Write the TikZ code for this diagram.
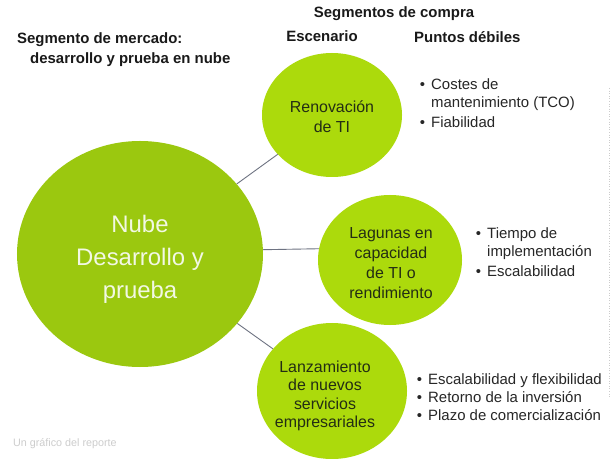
\documentclass[tikz,border=0pt]{standalone}
\usepackage{fontspec}
\setmainfont{Liberation Sans}
\usetikzlibrary{shapes.geometric}
\definecolor{bigg}{RGB}{155,200,15}
\definecolor{smallg}{RGB}{172,218,12}
\definecolor{circtext}{RGB}{35,45,20}
\definecolor{bigtext}{RGB}{242,248,228}
\definecolor{linegray}{RGB}{110,115,130}
\definecolor{captiongray}{RGB}{205,205,205}
\tikzset{
  blob/.style={ellipse, inner sep=0pt, draw=none},
  head/.style={font=\fontsize{15}{18}\selectfont\bfseries, inner sep=0pt, text=black!90},
  pts/.style={font=\fontsize{15}{18.5}\selectfont, align=left, inner sep=0pt, anchor=north west, text=black!85},
  ctext/.style={font=\fontsize{16}{20}\selectfont, align=center, inner sep=0pt, text=circtext},
  conn/.style={draw=linegray, line width=0.9pt}
}
\newcommand{\bul}{\llap{\textbullet\hspace{6pt}}}
\begin{document}
\begin{tikzpicture}[x=1bp,y=-1bp]
\useasboundingbox[fill=white] (0,0) rectangle (610,459);

% circles
\node[blob, fill=bigg, minimum width=246bp, minimum height=226bp] (big) at (140,254) {};
\node[blob, fill=smallg, minimum width=140bp, minimum height=124bp] (ren) at (332,115) {};
\node[blob, fill=smallg, minimum width=144bp, minimum height=130bp] (lag) at (390,260) {};
\node[blob, fill=smallg, minimum width=150bp, minimum height=136bp] (lan) at (332,391) {};

% connectors
\draw[conn] (big) -- (ren);
\draw[conn] (big.2) -- (lag.171);
\draw[conn] (big) -- (lan);

% circle texts
\node[font=\fontsize{24}{33}\selectfont, align=center, inner sep=0pt, text=bigtext] (bigt) at (140,259) {Nube\\Desarrollo y\\prueba};
\node[ctext] (rent) at (332,117) {Renovación\\de TI};
\node[ctext] (lagt) at (391,263) {Lagunas en\\capacidad\\de TI o\\rendimiento};
\node[ctext, font=\fontsize{16}{18.5}\selectfont] (lant) at (325,396) {Lanzamiento\\de nuevos\\servicios\\empresariales};

% headings
\node[head, anchor=base] (segc) at (394,18) {Segmentos de compra};
\node[head, anchor=base] (esc) at (322,42) {Escenario};
\node[head, anchor=base west] (pd) at (414,43) {Puntos débiles};
\node[head, anchor=base west] (segm) at (17,44) {Segmento de mercado:};
\node[head, anchor=base west] (segm2) at (30,64) {desarrollo y prueba en nube};

% weak points
\node[pts] (renp) at (431,78) {\bul Costes de\\mantenimiento (TCO)\\[1.5pt]\bul Fiabilidad};
\node[pts] (lagp) at (487,227) {\bul Tiempo de\\implementación\\[1.5pt]\bul Escalabilidad};
\node[pts] (lanp) at (428,373) {\bul Escalabilidad y flexibilidad\\\bul Retorno de la inversión\\\bul Plazo de comercialización};

% caption
\node[font=\fontsize{10.8}{13}\selectfont, text=captiongray, anchor=base west, inner sep=0pt] (cap) at (13,446) {Un gráfico del reporte};

% faint dotted frame edge
\coordinate (ft) at (609,88);
\coordinate (fb) at (609,397);
\draw[black!20, dotted, line width=0.6pt] (ft) -- (fb);
\end{tikzpicture}
\end{document}
